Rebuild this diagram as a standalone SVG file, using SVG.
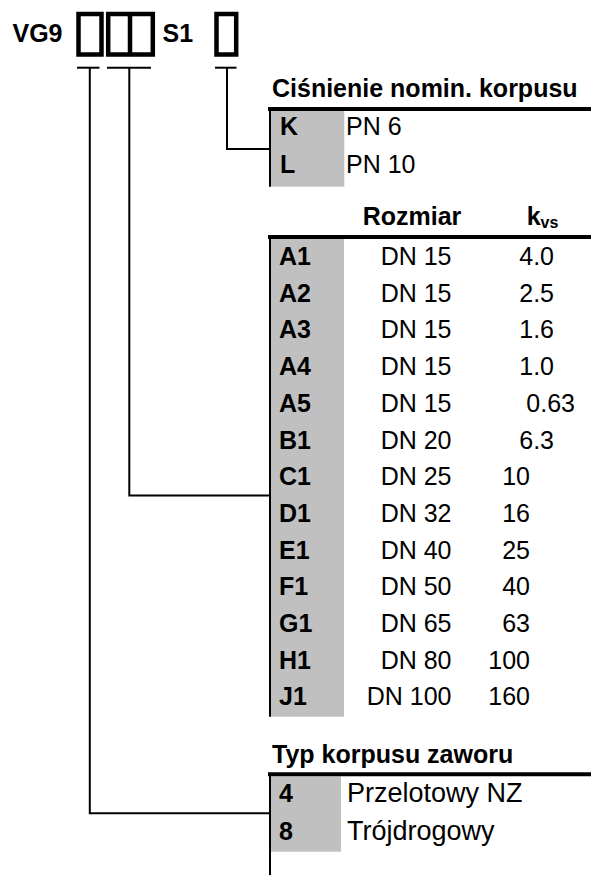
<svg xmlns="http://www.w3.org/2000/svg" width="591" height="875" viewBox="0 0 591 875">
<style>
  text { font-family: "Liberation Sans", Arial, sans-serif; font-size: 25px; fill: #000; }
  .b { font-weight: bold; }
  .big { font-size: 27px; }
  .box { fill: none; stroke: #000; stroke-width: 4.5; }
  .ln { fill: none; stroke: #000; stroke-width: 2; }
  .th { fill: none; stroke: #000; stroke-width: 4; }
  .grey { fill: #C0C0C0; }
  .e { text-anchor: end; }
</style>
<rect width="591" height="875" fill="#fff"/>

<g id="code">
  <text class="b" x="12.5" y="42">VG9</text>
  <rect id="box-type" class="box" x="78.5" y="14" width="23" height="40.5"/>
  <rect id="box-size" class="box" x="108.2" y="14" width="44.6" height="40.5"/>
  <line class="box" x1="130" y1="14" x2="130" y2="54.5"/>
  <text class="b" x="162.5" y="42">S1</text>
  <rect id="box-pn" class="box" x="216.5" y="14" width="19.7" height="40.5"/>
</g>

<g id="connectors">
  <line class="ln" x1="77" y1="67.7" x2="99.5" y2="67.7"/>
  <line class="ln" x1="107" y1="67.7" x2="151" y2="67.7"/>
  <line class="ln" x1="215" y1="67.7" x2="236.5" y2="67.7"/>
  <polyline class="ln" points="227,67.7 227,149 270,149"/>
  <polyline class="ln" points="129.3,67.7 129.3,495.5 270,495.5"/>
  <polyline class="ln" points="89.8,67.7 89.8,813.3 270,813.3"/>
</g>

<g id="table-pressure">
  <text class="b" x="272" y="96.7">Ciśnienie nomin. korpusu</text>
  <rect class="grey" x="270.7" y="110.7" width="73.6" height="76"/>
  <line class="th" x1="268" y1="109" x2="591" y2="109"/>
  <line class="ln" x1="270" y1="109" x2="270" y2="186.7"/>
  <text class="b" x="280" y="135">K</text>
  <text x="346" y="135">PN 6</text>
  <text class="b" x="280" y="173.3">L</text>
  <text x="346" y="173.3">PN 10</text>
</g>

<g id="table-size">
  <text class="b" x="362.7" y="225">Rozmiar</text>
  <text class="b" x="526.7" y="225">k<tspan style="font-size:16px" dy="3">vs</tspan></text>
  <rect class="grey" x="270.7" y="239" width="73.3" height="477.7"/>
  <line class="th" x1="268" y1="237" x2="591" y2="237"/>
  <line class="ln" x1="270" y1="237" x2="270" y2="716.7"/>
  <g>
    <text class="b" x="279" y="265">A1</text>
    <text class="b" x="279" y="301.7">A2</text>
    <text class="b" x="279" y="338.4">A3</text>
    <text class="b" x="279" y="375.1">A4</text>
    <text class="b" x="279" y="411.8">A5</text>
    <text class="b" x="279" y="448.5">B1</text>
    <text class="b" x="279" y="485.2">C1</text>
    <text class="b" x="279" y="521.9">D1</text>
    <text class="b" x="279" y="558.6">E1</text>
    <text class="b" x="279" y="595.3">F1</text>
    <text class="b" x="279" y="632">G1</text>
    <text class="b" x="279" y="668.7">H1</text>
    <text class="b" x="279" y="705.4">J1</text>
  </g>
  <g>
    <text class="e" x="451.5" y="265">DN 15</text>
    <text class="e" x="451.5" y="301.7">DN 15</text>
    <text class="e" x="451.5" y="338.4">DN 15</text>
    <text class="e" x="451.5" y="375.1">DN 15</text>
    <text class="e" x="451.5" y="411.8">DN 15</text>
    <text class="e" x="451.5" y="448.5">DN 20</text>
    <text class="e" x="451.5" y="485.2">DN 25</text>
    <text class="e" x="451.5" y="521.9">DN 32</text>
    <text class="e" x="451.5" y="558.6">DN 40</text>
    <text class="e" x="451.5" y="595.3">DN 50</text>
    <text class="e" x="451.5" y="632">DN 65</text>
    <text class="e" x="451.5" y="668.7">DN 80</text>
    <text class="e" x="451.5" y="705.4">DN 100</text>
  </g>
  <g>
    <text class="e" x="554" y="265">4.0</text>
    <text class="e" x="554" y="301.7">2.5</text>
    <text class="e" x="554" y="338.4">1.6</text>
    <text class="e" x="554" y="375.1">1.0</text>
    <text class="e" x="575" y="411.8">0.63</text>
    <text class="e" x="554" y="448.5">6.3</text>
    <text class="e" x="530" y="485.2">10</text>
    <text class="e" x="530" y="521.9">16</text>
    <text class="e" x="530" y="558.6">25</text>
    <text class="e" x="530" y="595.3">40</text>
    <text class="e" x="530" y="632">63</text>
    <text class="e" x="530" y="668.7">100</text>
    <text class="e" x="530" y="705.4">160</text>
  </g>
</g>

<g id="table-body">
  <text class="b" x="272" y="763.3">Typ korpusu zaworu</text>
  <rect class="grey" x="271" y="776.4" width="70" height="75.3"/>
  <line class="th" x1="268" y1="774.3" x2="591" y2="774.3"/>
  <line class="ln" x1="270" y1="774.3" x2="270" y2="875"/>
  <text class="b" x="279" y="801.7">4</text>
  <text class="big" x="347" y="801.7">Przelotowy NZ</text>
  <text class="b" x="279" y="840">8</text>
  <text class="big" x="347" y="840">Trójdrogowy</text>
</g>
</svg>
